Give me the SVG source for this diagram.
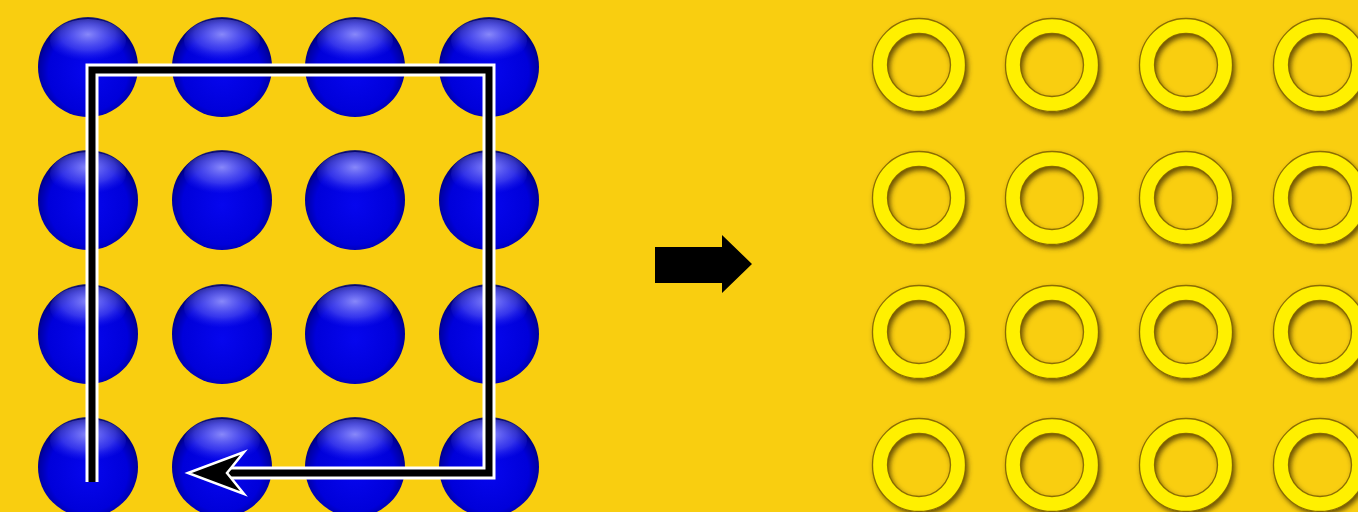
<svg xmlns="http://www.w3.org/2000/svg" width="1358" height="512" viewBox="0 0 1358 512">
<style>
.ball{fill:url(#gBall)}
.gloss{fill:url(#gGloss)}
.ring{fill:none;stroke:#FFF000;stroke-width:15}
.edge{fill:none;stroke:#7A5C00;stroke-width:1.3;stroke-opacity:0.85}
.pw{fill:none;stroke:#FFFFFF;stroke-width:13;stroke-linejoin:miter}
.pb{fill:none;stroke:#000000;stroke-width:7;stroke-linejoin:miter}
</style>
<defs>
<radialGradient id="gBall" cx="0.5" cy="0.55" r="0.55">
<stop offset="0" stop-color="#0606EE"/>
<stop offset="0.72" stop-color="#0000DA"/>
<stop offset="0.88" stop-color="#0000A8"/>
<stop offset="0.97" stop-color="#000070"/>
<stop offset="1" stop-color="#3A3A60"/>
</radialGradient>
<radialGradient id="gGloss" cx="0.5" cy="0.35" r="0.6">
<stop offset="0" stop-color="#A0A0FF" stop-opacity="0.85"/>
<stop offset="0.6" stop-color="#8080FF" stop-opacity="0.4"/>
<stop offset="1" stop-color="#4040FF" stop-opacity="0"/>
</radialGradient>
<filter id="shadow" x="-30%" y="-30%" width="160%" height="160%">
<feDropShadow dx="2" dy="3" stdDeviation="2.5" flood-color="#4A3400" flood-opacity="0.8"/>
</filter>
<g id="sphere">
<circle r="50" class="ball"/>
<ellipse cx="0" cy="-26" rx="38" ry="22" class="gloss"/>
</g>
<g id="donut" filter="url(#shadow)">
<circle r="39" class="ring"/>
<circle r="46.5" class="edge"/>
<circle r="31.5" class="edge"/>
</g>
</defs>
<rect width="1358" height="512" fill="#F9CE10"/>
<g id="spheres">
<g id="s11"><use href="#sphere" x="88" y="67"/></g>
<g id="s12"><use href="#sphere" x="222" y="67"/></g>
<g id="s13"><use href="#sphere" x="355" y="67"/></g>
<g id="s14"><use href="#sphere" x="489" y="67"/></g>
<g id="s21"><use href="#sphere" x="88" y="200"/></g>
<g id="s22"><use href="#sphere" x="222" y="200"/></g>
<g id="s23"><use href="#sphere" x="355" y="200"/></g>
<g id="s24"><use href="#sphere" x="489" y="200"/></g>
<g id="s31"><use href="#sphere" x="88" y="334"/></g>
<g id="s32"><use href="#sphere" x="222" y="334"/></g>
<g id="s33"><use href="#sphere" x="355" y="334"/></g>
<g id="s34"><use href="#sphere" x="489" y="334"/></g>
<g id="s41"><use href="#sphere" x="88" y="467"/></g>
<g id="s42"><use href="#sphere" x="222" y="467"/></g>
<g id="s43"><use href="#sphere" x="355" y="467"/></g>
<g id="s44"><use href="#sphere" x="489" y="467"/></g>
</g>
<g id="rings">
<g id="r11"><use href="#donut" x="919" y="65"/></g>
<g id="r12"><use href="#donut" x="1052" y="65"/></g>
<g id="r13"><use href="#donut" x="1186" y="65"/></g>
<g id="r14"><use href="#donut" x="1320" y="65"/></g>
<g id="r21"><use href="#donut" x="919" y="198"/></g>
<g id="r22"><use href="#donut" x="1052" y="198"/></g>
<g id="r23"><use href="#donut" x="1186" y="198"/></g>
<g id="r24"><use href="#donut" x="1320" y="198"/></g>
<g id="r31"><use href="#donut" x="919" y="332"/></g>
<g id="r32"><use href="#donut" x="1052" y="332"/></g>
<g id="r33"><use href="#donut" x="1186" y="332"/></g>
<g id="r34"><use href="#donut" x="1320" y="332"/></g>
<g id="r41"><use href="#donut" x="919" y="465"/></g>
<g id="r42"><use href="#donut" x="1052" y="465"/></g>
<g id="r43"><use href="#donut" x="1186" y="465"/></g>
<g id="r44"><use href="#donut" x="1320" y="465"/></g>
</g>
<g id="connectors">
<path class="pw" d="M92,482 V70 H489 V473 H226"/>
<path class="pb" d="M92,482 V70 H489 V473 H226"/>
<path d="M188,473 L244,452 L227,473 L244,494 Z" fill="#000" stroke="#FFF" stroke-width="2.5" stroke-linejoin="miter"/>
<path d="M655,247 H722 V235 L752,264 L722,293 V283 H655 Z" fill="#000"/>
</g>
</svg>
